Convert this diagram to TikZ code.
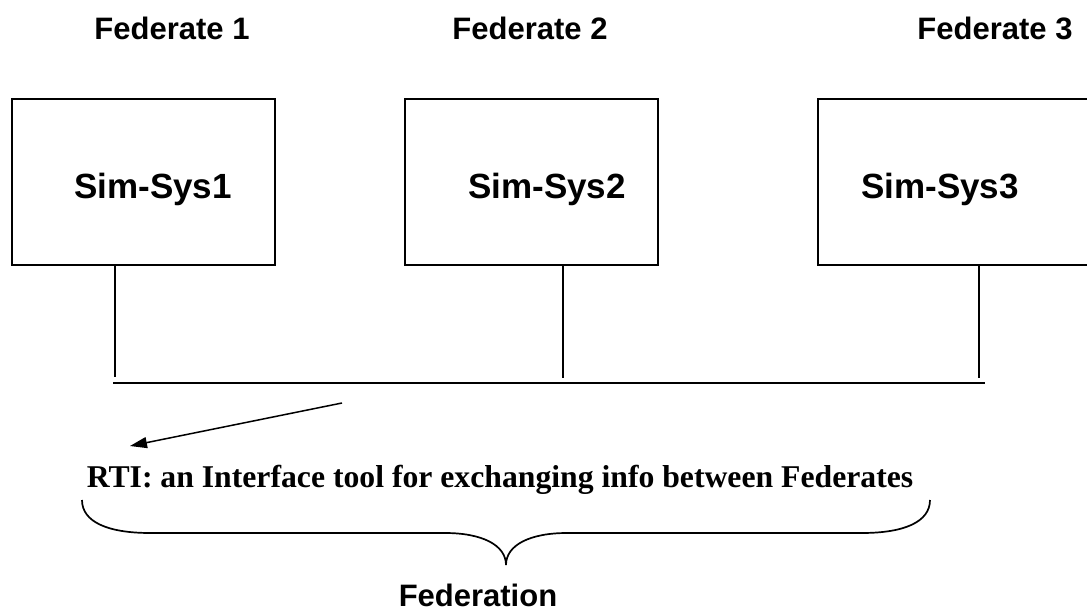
\documentclass[tikz,border=0pt]{standalone}
\usepackage{fontspec}
\setmainfont{Liberation Serif}
\setsansfont{Liberation Sans}
\usetikzlibrary{arrows.meta,calc}

\tikzset{
  fedlabel/.style={font=\sffamily\bfseries\fontsize{31bp}{36bp}\selectfont, anchor=base, inner sep=0},
  simlabel/.style={font=\sffamily\bfseries\fontsize{35bp}{40bp}\selectfont, anchor=base, inner sep=0},
  rtilabel/.style={font=\rmfamily\bfseries\fontsize{31.7bp}{36bp}\selectfont, anchor=base, inner sep=0},
  sysbox/.style={draw=black, line width=1.5bp, inner sep=0, minimum height=166bp},
  wire/.style={draw=black, line width=1.3bp},
  pointer/.style={draw=black, line width=1.5bp, -{Triangle[length=17bp,width=11bp]}},
  bracket/.style={draw=black, line width=1.7bp},
}

\begin{document}
\begin{tikzpicture}[x=1bp, y=-1bp]
  \useasboundingbox (0,0) rectangle (1087,611);
  \clip (0,0) rectangle (1087,611);

  % federate titles
  \node[fedlabel] (f1) at (172,40) {Federate 1};
  \node[fedlabel] (f2) at (530,40) {Federate 2};
  \node[fedlabel] (f3) at (995,40) {Federate 3};

  % simulation systems
  \node[sysbox, minimum width=263bp] (b1) at (143.5,182) {};
  \node[sysbox, minimum width=253bp] (b2) at (531.5,182) {};
  \node[sysbox, minimum width=278bp] (b3) at (957,182) {};
  \node[simlabel] (s1) at (153,199) {Sim-Sys1};
  \node[simlabel] (s2) at (547,199) {Sim-Sys2};
  \node[simlabel] (s3) at (940,199) {Sim-Sys3};

  % drop lines and the shared bus
  \coordinate (d1) at (115,377);
  \coordinate (d2) at (563,378);
  \coordinate (d3) at (979,378);
  \coordinate (busL) at (113,383);
  \coordinate (busR) at (985,383);
  \draw[wire] (b1.south -| d1) -- (d1);
  \draw[wire] (b2.south -| d2) -- (d2);
  \draw[wire] (b3.south -| d3) -- (d3);
  \draw[wire] (busL) -- (busR);

  % RTI caption and its pointer
  \node[rtilabel] (rti) at (500,487) {RTI: an Interface tool for exchanging info between Federates};
  \coordinate (ptrS) at (342,403);
  \coordinate (ptrE) at (130,446);
  \draw[pointer] (ptrS) -- (ptrE);

  % brace grouping the whole federation
  \coordinate (brL) at (82,500);
  \coordinate (brR) at (930,500);
  \coordinate (brTip) at (506,565);
  \draw[bracket] (brL) .. controls (82,522) and (108,533) .. (150,533)
    -- (445,533) .. controls (482,533) and (506,545) .. (brTip)
    .. controls (506,545) and (530,533) .. (567,533)
    -- (862,533) .. controls (904,533) and (930,522) .. (brR);

  \node[fedlabel, text depth=0pt] (fed) at (478,606) {Federation};
\end{tikzpicture}
\end{document}
